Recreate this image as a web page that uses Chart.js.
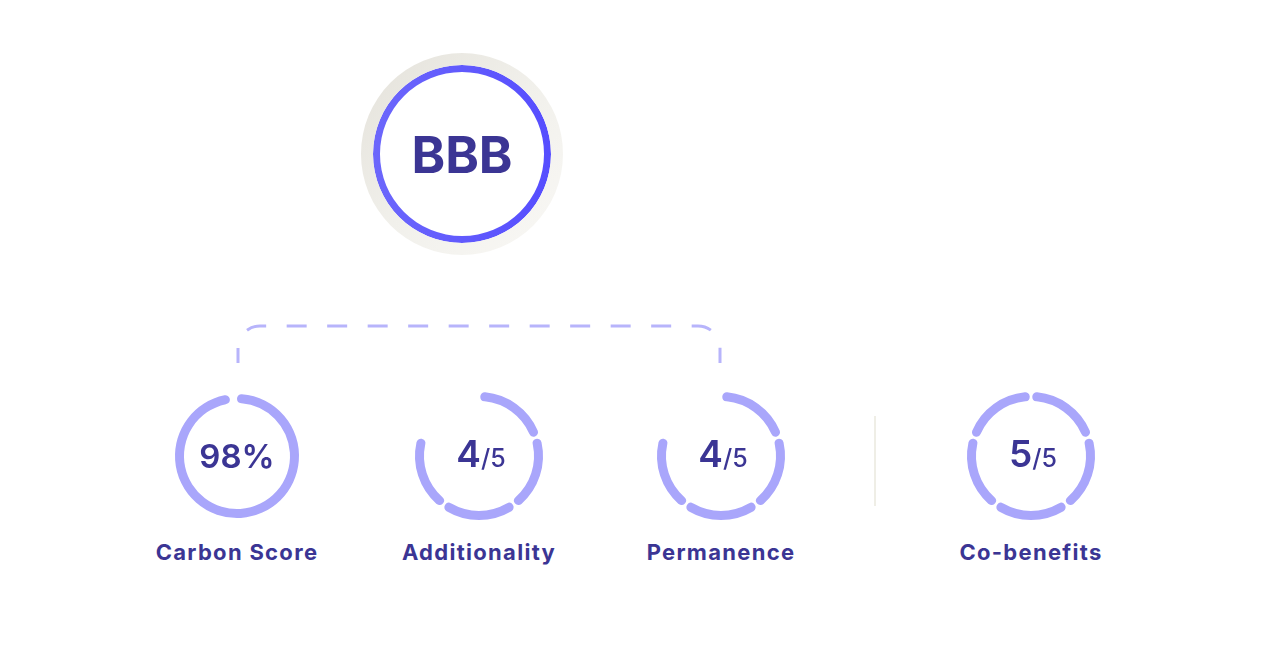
<!DOCTYPE html>
<html>
<head>
<meta charset="utf-8">
<script src="https://cdn.jsdelivr.net/npm/chart.js@4.4.1/dist/chart.umd.min.js"></script>
<style>
  body { margin: 0; background: #fff; }
  #stage { position: relative; width: 1288px; height: 656px; overflow: hidden; font-family: Inter, "Noto Sans", sans-serif; color: #3b3594; }
  .abs { position: absolute; }
  .center-txt { position: absolute; line-height: 1; white-space: nowrap; text-align: center; }
  .lbl { font-size: 22px; font-weight: 700; letter-spacing: 1.3px; }
  .big { font-weight: 600; }
  .bold { font-weight: 700; }
  .small { font-weight: 500; }
</style>
</head>
<body>
<div id="stage">
  <svg class="abs" style="left:0;top:0" width="1288" height="656">
    <path id="connector" d="M238 363 L238 348 A22 22 0 0 1 260 326 L698 326 A22 22 0 0 1 720 348 L720 363"
          fill="none" stroke="#b7b4fb" stroke-width="3" stroke-dasharray="20 20.5" stroke-dashoffset="5"/>
    <line x1="875" y1="416" x2="875" y2="506" stroke="#efeee6" stroke-width="2"/>
  </svg>
</div>
<script>
// data
const ratingLabel = "BBB";
const gaugeLabels = ["Carbon Score", "Additionality", "Permanence", "Co-benefits"];
const gaugeValues = [98, 4, 4, 5];
const gaugeMax = [100, 5, 5, 5];
const gaugeKind = ["percent", "steps", "steps", "steps"];

// layout
const gaugeX = [237, 479, 721, 1031];
const gaugeY = 456;
const ratingX = 462, ratingY = 154;

const lavender = "#a9a6fb";
const stage = document.getElementById("stage");

function addCanvas(cx, cy, size) {
    const c = document.createElement("canvas");
    c.width = size;
    c.height = size;
    c.className = "abs";
    c.style.left = (cx - size / 2) + "px";
    c.style.top = (cy - size / 2) + "px";
    stage.appendChild(c);
    return c.getContext("2d");
}

function addText(html, cx, cy, size, cls) {
    const d = document.createElement("div");
    d.className = "center-txt " + (cls || "");
    d.style.fontSize = size + "px";
    d.style.left = cx + "px";
    d.style.top = (cy - size / 2) + "px";
    d.style.transform = "translateX(-50%)";
    d.innerHTML = html;
    stage.appendChild(d);
}

const baseOptions = {
    responsive: false,
    animation: false,
    events: [],
    plugins: { legend: { display: false }, tooltip: { enabled: false } },
};

// big rating ring
const bigCtx = addCanvas(ratingX, ratingY, 210);
new Chart(bigCtx, {
    type: "doughnut",
    data: {
        labels: [ratingLabel],
        datasets: [
            {
                data: [1],
                weight: 12,
                borderWidth: 0,
                hoverOffset: 0,
                backgroundColor: function (context) {
                    const g = context.chart.ctx.createLinearGradient(20, 20, 190, 190);
                    g.addColorStop(0, "#e6e4dd");
                    g.addColorStop(0.5, "#f1f0eb");
                    g.addColorStop(1, "#f8f7f4");
                    return g;
                },
            },
            {
                data: [1],
                weight: 7,
                borderWidth: 0,
                hoverOffset: 0,
                backgroundColor: function (context) {
                    const g = context.chart.ctx.createLinearGradient(0, 0, 210, 0);
                    g.addColorStop(0, "#6e69fb");
                    g.addColorStop(1, "#544bff");
                    return g;
                },
            },
        ],
    },
    options: Object.assign({}, baseOptions, { radius: 101, cutout: "81.2%" }),
});
addText(ratingLabel, ratingX, ratingY, 51, "bold");

// small gauges
gaugeLabels.forEach((label, i) => {
    const ctx = addCanvas(gaugeX[i], gaugeY, 140);
    let data, colors, spacing;
    if (gaugeKind[i] === "percent") {
        data = [gaugeValues[i], gaugeMax[i] - gaugeValues[i]];
        colors = [lavender, "rgba(0,0,0,0)"];
        spacing = 0;
    } else {
        data = Array(gaugeMax[i]).fill(1);
        colors = data.map((v, k) => (k < gaugeValues[i] ? lavender : "rgba(0,0,0,0)"));
        spacing = 4;
    }
    new Chart(ctx, {
        type: "doughnut",
        data: {
            labels: data.map((v, k) => label + " " + (k + 1)),
            datasets: [
                {
                    data: data,
                    backgroundColor: colors,
                    borderWidth: 0,
                    borderRadius: 4.5,
                    spacing: spacing,
                    hoverOffset: 0,
                },
            ],
        },
        options: Object.assign({}, baseOptions, { radius: 62, cutout: "85.5%" }),
    });

    if (gaugeKind[i] === "percent") {
        addText(gaugeValues[i] + "%", gaugeX[i], gaugeY, 33, "big");
    } else {
        addText('<span class="big">' + gaugeValues[i] + '</span><span class="small" style="font-size:25px">/' + gaugeMax[i] + "</span>",
            gaugeX[i] + 2, gaugeY - 3, 37, "");
    }
    addText(label, gaugeX[i], 552, 22, "lbl");
});
</script>
</body>
</html>
